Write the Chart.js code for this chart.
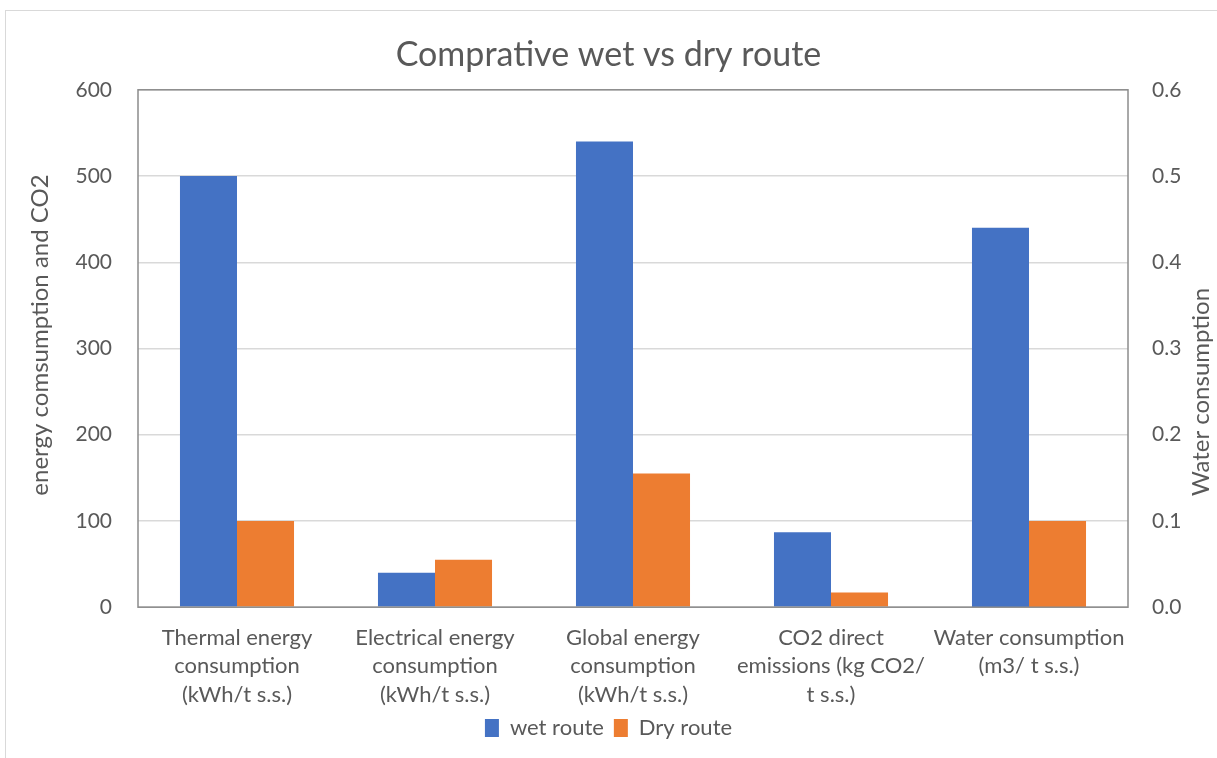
<!DOCTYPE html>
<html>
<head>
<meta charset="utf-8">
<script src="https://cdn.jsdelivr.net/npm/chart.js@4"></script>
<style>
  html, body { margin: 0; padding: 0; background: #fff; }
  #frame { position: absolute; left: 5px; top: 10px; width: 1240px; height: 780px; border: 1px solid #d9d9d9; }
  #wrap { position: absolute; left: 0; top: 0; width: 1217px; height: 758px; }
</style>
</head>
<body>
<div id="frame"></div>
<div id="wrap"><canvas id="chart"></canvas></div>
<script>
// categories (last one is plotted on the secondary axis)
const categories = [
  ['Thermal energy', 'consumption', '(kWh/t s.s.)'],
  ['Electrical energy', 'consumption', '(kWh/t s.s.)'],
  ['Global energy', 'consumption', '(kWh/t s.s.)'],
  ['CO2 direct', 'emissions (kg CO2/', 't s.s.)'],
  ['Water consumption', '(m3/ t s.s.)']
];
const wetRoute = [500, 40, 540, 87];
const dryRoute = [100, 55, 155, 17];
const wetWater = 0.44;
const dryWater = 0.1;

const blue = '#4472C4';
const orange = '#ED7D31';
const textColor = '#595959';
const font = 'Lato, "Open Sans", sans-serif';

// plot border + vertical axis titles (both read bottom to top)
const plotBox = {
  id: 'plotBox',
  afterDraw(chart) {
    const { ctx, chartArea: a } = chart;
    ctx.save();
    ctx.strokeStyle = '#8c8c8c';
    ctx.lineWidth = 1.5;
    ctx.strokeRect(a.left, a.top, a.right - a.left, a.bottom - a.top);

    ctx.fillStyle = textColor;
    ctx.font = '24px ' + font;
    ctx.textAlign = 'center';
    ctx.textBaseline = 'middle';
    const titles = [
      { text: 'energy comsumption and CO2', x: 40, y: 335 },
      { text: 'Water consumption', x: 1201, y: 392 }
    ];
    titles.forEach((t) => {
      ctx.save();
      ctx.translate(t.x, t.y);
      ctx.rotate(-Math.PI / 2);
      ctx.fillText(t.text, 0, 0);
      ctx.restore();
    });
    ctx.restore();
  }
};

new Chart(document.getElementById('chart'), {
  type: 'bar',
  data: {
    labels: categories,
    datasets: [
      { label: 'wet route', data: [...wetRoute, null], backgroundColor: blue, stack: 'wet', yAxisID: 'y' },
      { label: 'Dry route', data: [...dryRoute, null], backgroundColor: orange, stack: 'dry', yAxisID: 'y' },
      { label: 'wet route (water)', data: [null, null, null, null, wetWater], backgroundColor: blue, stack: 'wet', yAxisID: 'y1' },
      { label: 'Dry route (water)', data: [null, null, null, null, dryWater], backgroundColor: orange, stack: 'dry', yAxisID: 'y1' }
    ]
  },
  options: {
    responsive: true,
    maintainAspectRatio: false,
    animation: false,
    categoryPercentage: 0.576,
    barPercentage: 1,
    layout: { padding: { left: 30, right: 30, top: 35, bottom: 9 } },
    plugins: {
      title: {
        display: true,
        text: 'Comprative wet vs dry route',
        color: textColor,
        font: { family: font, size: 34, weight: 'normal' },
        padding: { top: 0, bottom: 14 }
      },
      legend: {
        position: 'bottom',
        labels: {
          color: textColor,
          font: { family: font, size: 22 },
          boxWidth: 14,
          boxHeight: 18,
          padding: 10,
          filter: (item) => item.datasetIndex < 2
        }
      },
      tooltip: { enabled: false }
    },
    scales: {
      x: {
        grid: { display: false, drawTicks: false },
        border: { display: false },
        afterFit: (scale) => { scale.height -= 18; },
        ticks: {
          color: textColor,
          font: { family: font, size: 22, lineHeight: 1.3 },
          maxRotation: 0,
          autoSkip: false,
          padding: 16
        }
      },
      y: {
        position: 'left',
        stacked: false,
        min: 0,
        max: 600,
        afterFit: (scale) => { scale.width = 108; },
        ticks: { stepSize: 100, color: textColor, font: { family: font, size: 21 }, padding: 26 },
        grid: { color: '#d9d9d9', lineWidth: 1.5, drawTicks: false },
        border: { display: false }
      },
      y1: {
        position: 'right',
        stacked: false,
        min: 0,
        max: 0.6,
        afterFit: (scale) => { scale.width = 59; },
        ticks: {
          stepSize: 0.1,
          color: textColor,
          font: { family: font, size: 21 },
          padding: 24,
          callback: (v) => v.toFixed(1)
        },
        grid: { display: false, drawTicks: false },
        border: { display: false }
      }
    }
  },
  plugins: [plotBox]
});
</script>
</body>
</html>
